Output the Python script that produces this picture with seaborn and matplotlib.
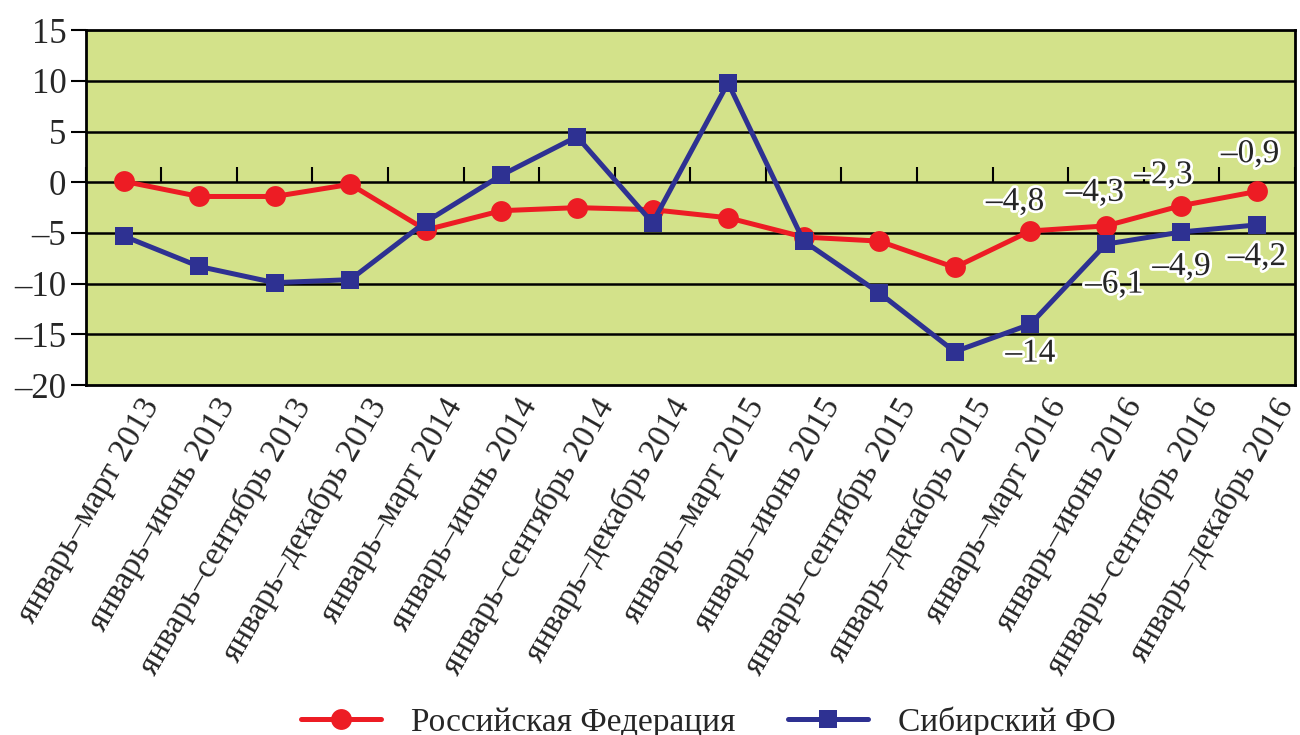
import matplotlib
matplotlib.use("Agg")
import matplotlib.pyplot as plt
import matplotlib.patheffects as pe
import matplotlib.transforms as mtransforms
import numpy as np
import seaborn as sns

# data
periods = [
    "январь–март 2013", "январь–июнь 2013", "январь–сентябрь 2013", "январь–декабрь 2013",
    "январь–март 2014", "январь–июнь 2014", "январь–сентябрь 2014", "январь–декабрь 2014",
    "январь–март 2015", "январь–июнь 2015", "январь–сентябрь 2015", "январь–декабрь 2015",
    "январь–март 2016", "январь–июнь 2016", "январь–сентябрь 2016", "январь–декабрь 2016",
]
russia = [0.1, -1.4, -1.4, -0.2, -4.7, -2.8, -2.5, -2.7,
          -3.5, -5.4, -5.8, -8.4, -4.8, -4.3, -2.3, -0.9]
siberia = [-5.3, -8.3, -9.9, -9.6, -3.9, 0.7, 4.5, -4.0,
           9.8, -5.8, -10.9, -16.7, -14.0, -6.1, -4.9, -4.2]
y_ticks = [-20, -15, -10, -5, 0, 5, 10, 15]

RED = "#ED1C24"
BLUE = "#2E3192"
BG = "#D3E28A"

sns.set_style("white")
plt.rcParams["font.family"] = ["Liberation Serif", "DejaVu Serif"]
plt.rcParams["axes.unicode_minus"] = True

fig = plt.figure(figsize=(13, 7.35), dpi=100)
ax = fig.add_axes([0.066, 0.476, 0.930, 0.483])
ax.set_facecolor(BG)

x = np.arange(len(periods))
sns.lineplot(x=x, y=russia, ax=ax, color=RED, linewidth=3.6, marker="o",
             markersize=15, markeredgewidth=0, label="Российская Федерация", zorder=3)
sns.lineplot(x=x, y=siberia, ax=ax, color=BLUE, linewidth=3.6, marker="s",
             markersize=13, markeredgewidth=0, label="Сибирский ФО", zorder=4)

ax.set_xlim(-0.5, len(periods) - 0.5)
ax.set_ylim(-20, 15)
ax.set_yticks(y_ticks)
ax.set_yticklabels([str(v).replace("-", "\u2013") for v in y_ticks], fontsize=25)
ax.tick_params(axis="y", length=11, width=1.5, color="black", pad=3, direction="out", left=True)

for v in y_ticks[1:-1]:
    ax.axhline(v, color="black", linewidth=1.8, zorder=1)
for s in ax.spines.values():
    s.set_color("black")
    s.set_linewidth(2)

# category labels at the bottom
ax.set_xticks(x)
ax.set_xticklabels(periods, rotation=60, ha="right", rotation_mode="anchor", fontsize=24)
ax.tick_params(axis="x", length=0, pad=6)
offset = mtransforms.ScaledTranslation(0.16, 0, fig.dpi_scale_trans)
for lab in ax.get_xticklabels():
    lab.set_transform(lab.get_transform() + offset)

# category axis crossing at zero, tick marks between categories
sec = ax.secondary_xaxis(20 / 35)
sec.set_xticks(np.arange(-0.5, len(periods), 1.0))
sec.set_xticklabels([])
sec.tick_params(axis="x", length=11, width=1.5, color="black", direction="out")
sec.spines["bottom"].set_linewidth(1.8)

# value labels
fmt = lambda v: ("%g" % v).replace(".", ",").replace("-", "\u2013")
stroke = [pe.withStroke(linewidth=4, foreground="white")]
red_off = [(-11, 21), (-8, 24), (-13, 22), (-5, 27)]
blue_off = [(0, -21), (6, -29), (0, -25), (0, -23)]
for i, (ro, bo) in zip(range(12, 16), zip(red_off, blue_off)):
    ax.annotate(fmt(russia[i]), (x[i], russia[i]), xytext=ro, textcoords="offset points",
                ha="center", va="center", fontsize=24, path_effects=stroke, zorder=6)
    ax.annotate(fmt(siberia[i]), (x[i], siberia[i]), xytext=bo, textcoords="offset points",
                ha="center", va="center", fontsize=24, path_effects=stroke, zorder=6)

handles, labels = ax.get_legend_handles_labels()
ax.get_legend().remove()
fig.legend(handles, labels, loc="center", bbox_to_anchor=(0.545, 0.018), ncol=2,
           frameon=False, fontsize=24, handlelength=2.4, columnspacing=1.6, handletextpad=0.9)

fig.savefig("out.png", dpi=100, facecolor="white")
